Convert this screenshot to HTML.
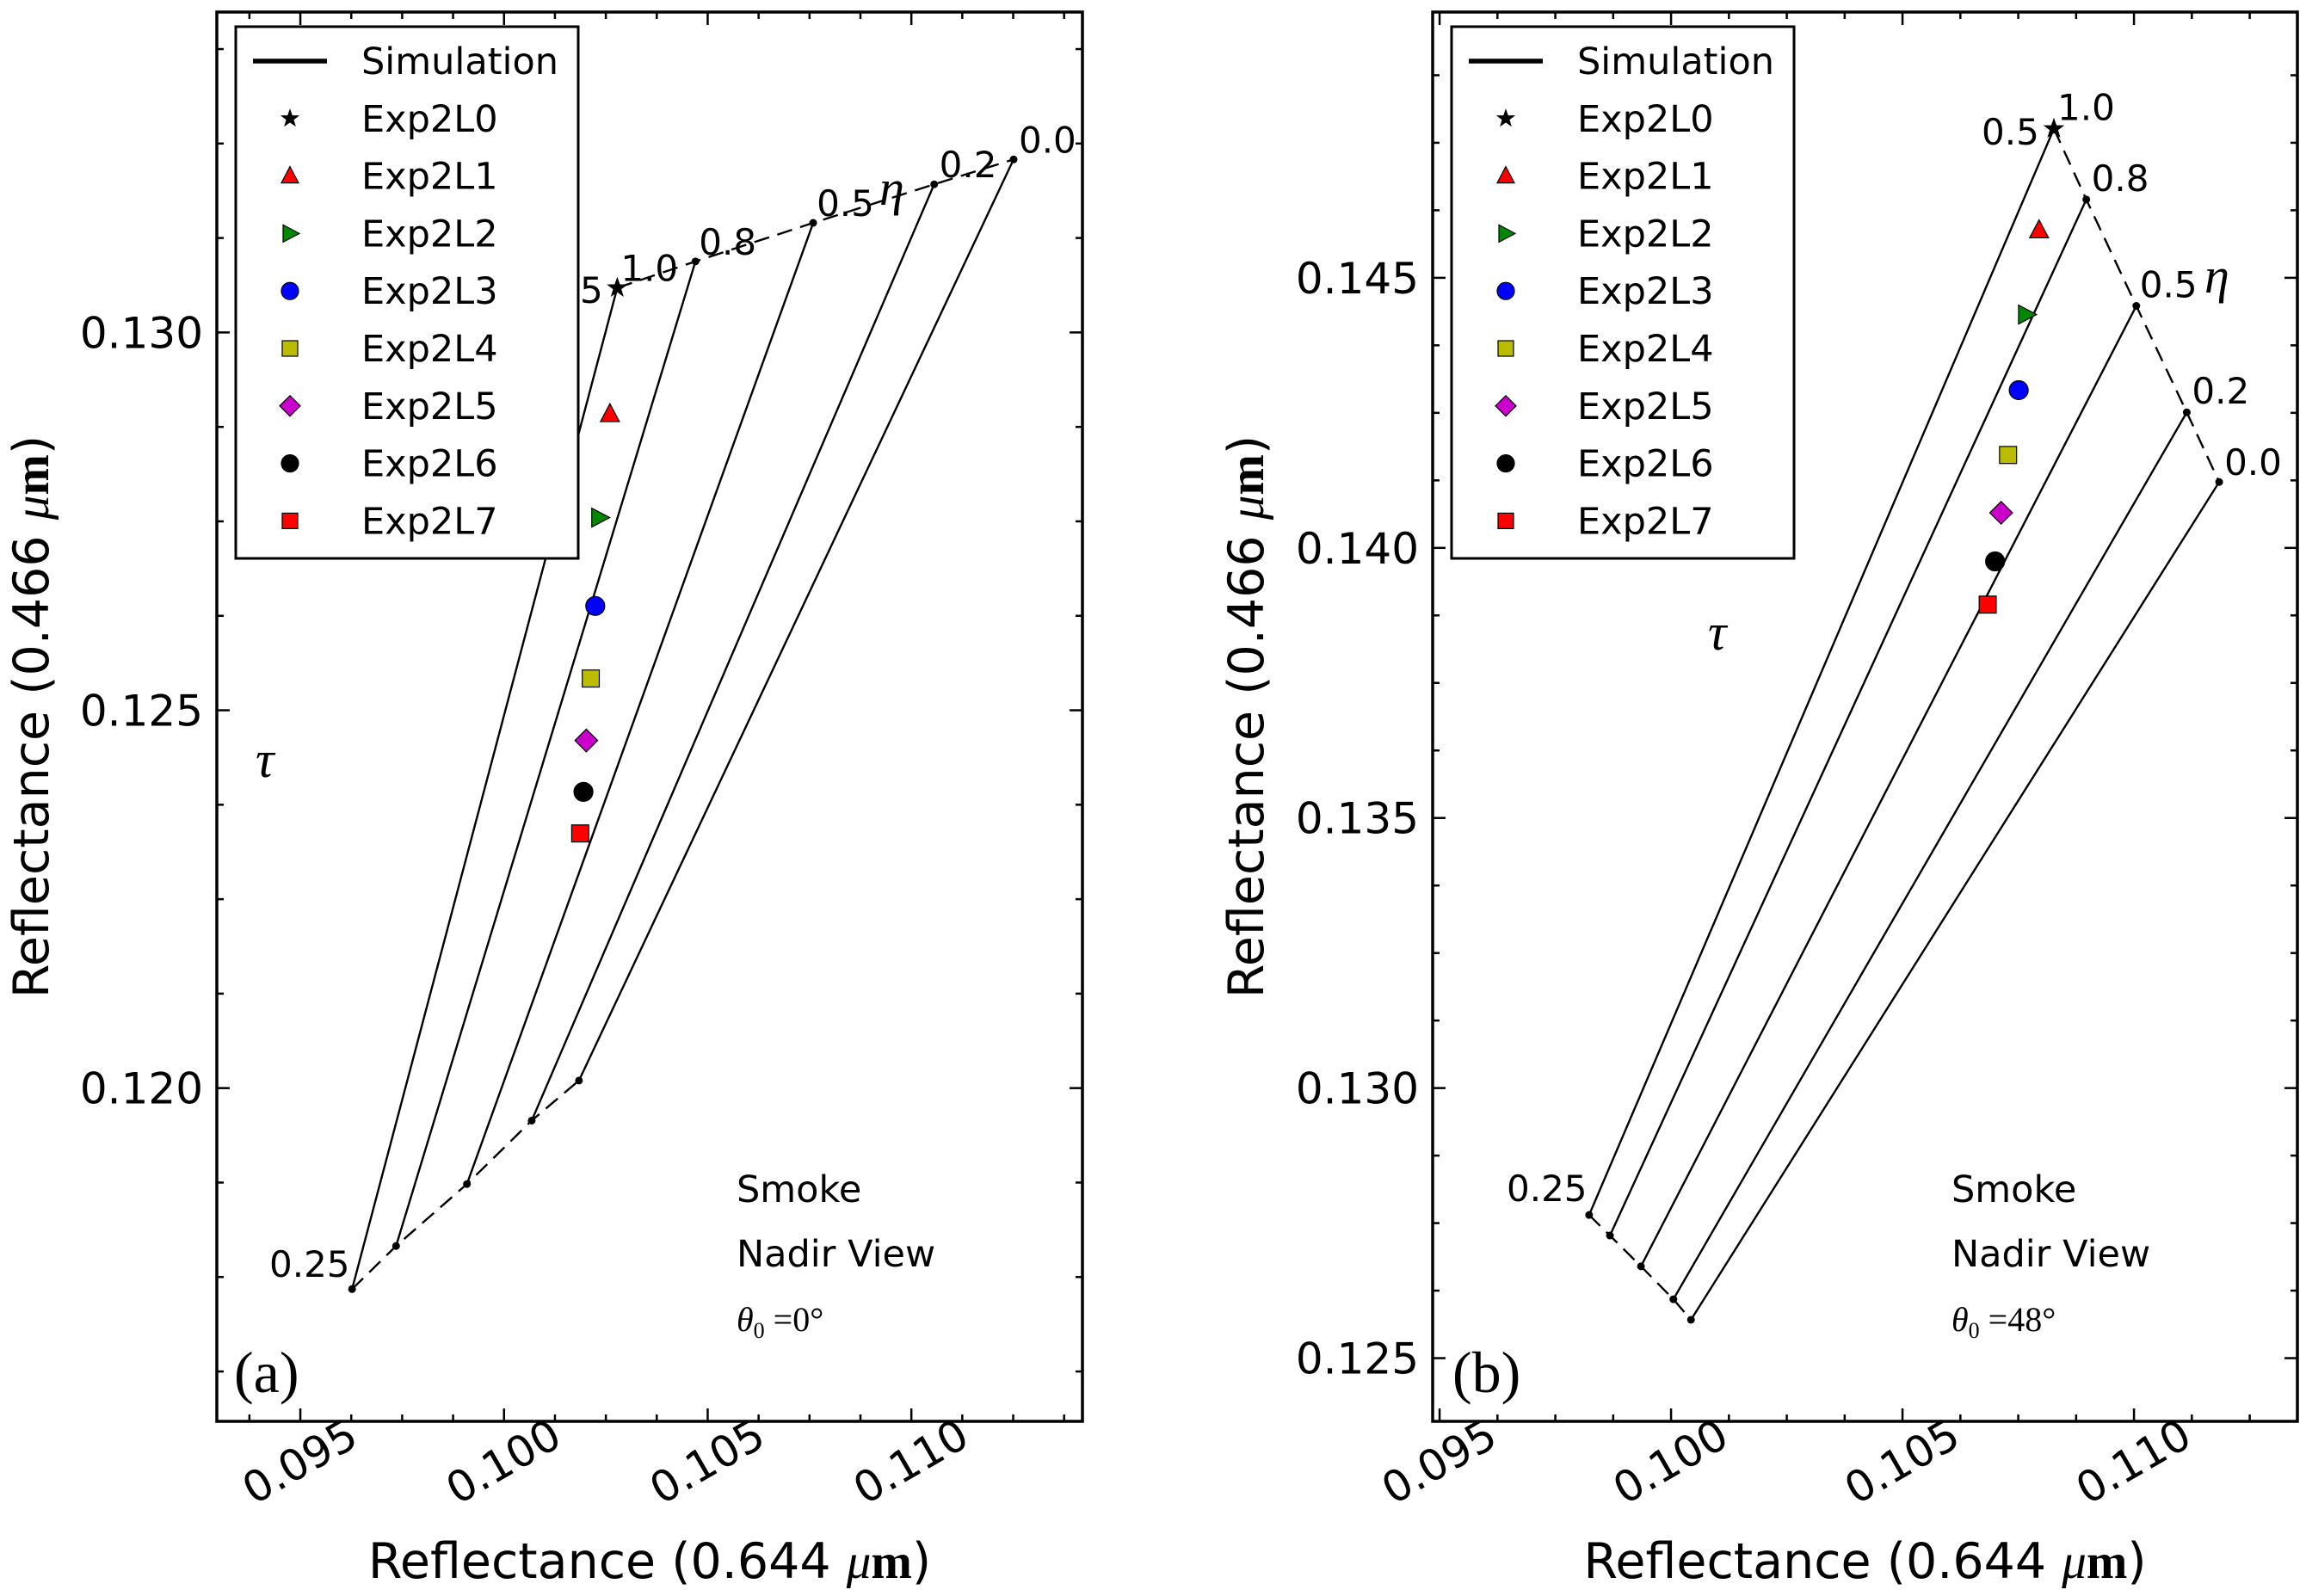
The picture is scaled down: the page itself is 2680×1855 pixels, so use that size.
<!DOCTYPE html>
<html><head><meta charset="utf-8"><style>
html,body{margin:0;padding:0;background:#fff}
svg{display:block;font-family:"DejaVu Sans","Liberation Sans",sans-serif}
</style></head><body>
<svg id="fig" width="2680" height="1855" viewBox="0 0 2680 1855" xmlns="http://www.w3.org/2000/svg">
<rect width="2680" height="1855" fill="#fff"/>
</svg>
<script>
// ---- Panel (a) data ----
const aTopX = [0.10278, 0.10470, 0.10759, 0.11056, 0.11251];
const aTopY = [0.13059, 0.13094, 0.13145, 0.13196, 0.13229];
const aBotX = [0.09627, 0.09735, 0.09909, 0.10068, 0.10184];
const aBotY = [0.11734, 0.11791, 0.11873, 0.11957, 0.12010];
const aExpX = [0.10278, 0.10260, 0.10234, 0.10224, 0.10213, 0.10202, 0.10195, 0.10187];
const aExpY = [0.13059, 0.12892, 0.12755, 0.12638, 0.12542, 0.12460, 0.12392, 0.12337];
const etaLabels = ['1.0', '0.8', '0.5', '0.2', '0.0'];
// ---- Panel (b) data ----
const bTopX = [0.10827, 0.10897, 0.11005, 0.11114, 0.11184];
const bTopY = [0.14776, 0.14645, 0.14448, 0.14251, 0.14122];
const bBotX = [0.09823, 0.09868, 0.09935, 0.10005, 0.10043];
const bBotY = [0.12765, 0.12727, 0.12670, 0.12609, 0.12571];
const bExpX = [0.10827, 0.10795, 0.10767, 0.10751, 0.10728, 0.10713, 0.10700, 0.10684];
const bExpY = [0.14776, 0.14588, 0.14432, 0.14292, 0.14172, 0.14065, 0.13975, 0.13895];
const legendLabels = ['Exp2L0','Exp2L1','Exp2L2','Exp2L3','Exp2L4','Exp2L5','Exp2L6','Exp2L7'];
const aXTicks = [0.095, 0.100, 0.105, 0.110];
const aYTicks = [0.120, 0.125, 0.130];
const bXTicks = [0.095, 0.100, 0.105, 0.110];
const bYTicks = [0.125, 0.130, 0.135, 0.140, 0.145];

const NS = 'http://www.w3.org/2000/svg';
const svg = document.getElementById('fig');
function mk(tag, attrs, parent, text) {
  const e = document.createElementNS(NS, tag);
  for (const k in attrs) e.setAttribute(k, attrs[k]);
  if (text !== undefined) e.textContent = text;
  (parent || svg).appendChild(e);
  return e;
}
const markerStyle = [
  {shape:'star', fill:'#000'}, {shape:'tri', fill:'#f00'}, {shape:'rtri', fill:'#080'},
  {shape:'circle', fill:'#00f'}, {shape:'square', fill:'#bb0'}, {shape:'diamond', fill:'#c0c'},
  {shape:'circle', fill:'#000'}, {shape:'square', fill:'#f00'}
];
function marker(g, shape, fill, cx, cy, s) {
  let e;
  if (shape === 'circle') e = mk('circle', {cx, cy, r: s*0.5}, g);
  else if (shape === 'square') e = mk('rect', {x: cx - s*0.45, y: cy - s*0.45, width: s*0.9, height: s*0.9}, g);
  else if (shape === 'tri') e = mk('polygon', {points: `${cx},${cy-s*0.55} ${cx+s*0.5},${cy+s*0.4} ${cx-s*0.5},${cy+s*0.4}`}, g);
  else if (shape === 'rtri') e = mk('polygon', {points: `${cx+s*0.55},${cy} ${cx-s*0.4},${cy-s*0.5} ${cx-s*0.4},${cy+s*0.5}`}, g);
  else if (shape === 'diamond') e = mk('polygon', {points: `${cx},${cy-s*0.6} ${cx+s*0.6},${cy} ${cx},${cy+s*0.6} ${cx-s*0.6},${cy}`}, g);
  else if (shape === 'star') {
    let p = [];
    for (let i = 0; i < 10; i++) { const r = i%2 ? s*0.22 : s*0.55; const a = -Math.PI/2 + i*Math.PI/5; p.push((cx + r*Math.cos(a)).toFixed(1) + ',' + (cy + r*Math.sin(a)).toFixed(1)); }
    e = mk('polygon', {points: p.join(' ')}, g);
  }
  e.setAttribute('fill', fill);
  e.setAttribute('stroke', '#000');
  e.setAttribute('stroke-width', '1.2');
  return e;
}

function panel(cfg) {
  const {id, L, R, T, B, xmin, xmax, ymin, ymax} = cfg;
  const sx = v => L + (v - xmin) / (xmax - xmin) * (R - L);
  const sy = v => B - (v - ymin) / (ymax - ymin) * (B - T);
  const g = mk('g', {});
  
  
  const tg = mk('g', {stroke: '#000', 'stroke-width': 2.5}, g);
  
  
  const step = 0.00125;
  for (let v = Math.ceil(xmin/step)*step; v <= xmax; v += step) {
    const major = Math.abs(v/0.005 - Math.round(v/0.005)) < 1e-6;
    const len = major ? 15 : 8, x = sx(v);
    mk('line', {x1: x, y1: B, x2: x, y2: B - len}, tg);
    mk('line', {x1: x, y1: T, x2: x, y2: T + len}, tg);
  }
  for (let v = Math.ceil(ymin/step)*step; v <= ymax; v += step) {
    const major = Math.abs(v/0.005 - Math.round(v/0.005)) < 1e-6;
    const len = major ? 15 : 8, y = sy(v);
    mk('line', {x1: L, y1: y, x2: L + len, y2: y}, tg);
    mk('line', {x1: R, y1: y, x2: R - len, y2: y}, tg);
  }
  cfg.xticks.forEach(v => {
    const x = sx(v);
    const t = mk('text', {x: x, y: 1716, 'font-size': 50, 'text-anchor': 'middle', transform: `rotate(-30 ${x} 1700)`}, g, v.toFixed(3));
    
    
  });
  cfg.yticks.forEach(v => {
    const t = mk('text', {x: L - 16, y: sy(v) + 18, 'font-size': 50, 'text-anchor': 'end'}, g, v.toFixed(3));
    
    
  });
  const xt = mk('text', {x: (L+R)/2, y: 1834, 'font-size': 57, 'text-anchor': 'middle'}, g);
  
  
  mk('tspan', {}, xt, 'Reflectance (0.644 ');
  mk('tspan', {'font-family': '"Liberation Serif",serif', 'font-style': 'italic'}, xt, 'μ');
  mk('tspan', {'font-family': '"Liberation Serif",serif', 'font-weight': 'bold'}, xt, 'm');
  mk('tspan', {}, xt, ')');
  const yx = cfg.ytitleX, yy = 833;
  const yt = mk('text', {x: yx, y: yy, 'font-size': 57, 'text-anchor': 'middle', transform: `rotate(-90 ${yx} ${yy})`}, g);
  
  
  mk('tspan', {}, yt, 'Reflectance (0.466 ');
  mk('tspan', {'font-family': '"Liberation Serif",serif', 'font-style': 'italic'}, yt, 'μ');
  mk('tspan', {'font-family': '"Liberation Serif",serif', 'font-weight': 'bold'}, yt, 'm');
  mk('tspan', {}, yt, ')');
  const sg = mk('g', {stroke: '#000', fill: 'none', 'stroke-width': 2.4}, g);
  
  
  for (let i = 0; i < cfg.topX.length; i++) {
    const ln = mk('line', {x1: sx(cfg.botX[i]), y1: sy(cfg.botY[i]), x2: sx(cfg.topX[i]), y2: sy(cfg.topY[i])}, sg);
    
    
  }
  const tp = cfg.topX.map((v, i) => sx(v) + ',' + sy(cfg.topY[i])).join(' ');
  const bp = cfg.botX.map((v, i) => sx(v) + ',' + sy(cfg.botY[i])).join(' ');
  const d1 = mk('polyline', {points: tp, 'stroke-dasharray': '18,10'}, sg);
  
  
  const d2 = mk('polyline', {points: bp, 'stroke-dasharray': '18,10'}, sg);
  
  
  const pts = cfg.topX.map((v,i)=>[v,cfg.topY[i]]).concat(cfg.botX.map((v,i)=>[v,cfg.botY[i]]));
  pts.forEach(p => {
    const c = mk('circle', {cx: sx(p[0]), cy: sy(p[1]), r: 4.5, fill: '#000', stroke: 'none'}, sg);
    
    
  });
  cfg.topX.forEach((v, i) => {
    const t = mk('text', {x: sx(v) + cfg.etaOff[i][0], y: sy(cfg.topY[i]) + cfg.etaOff[i][1], 'font-size': 42}, g, etaLabels[i]);
    
    
  });
  const eg = mk('g', {}, g);
  
  
  cfg.expX.forEach((v, i) => {
    const m = marker(eg, markerStyle[i].shape, markerStyle[i].fill, sx(v), sy(cfg.expY[i]), i === 0 ? 20 : 22);
    
    
  });
  const fr = mk('rect', {x: L, y: T, width: R - L, height: B - T, fill: 'none', stroke: '#000', 'stroke-width': 3.5}, g);
  
  
  const lg = mk('g', {}, g);
  
  
  const lx = cfg.legX;
  mk('rect', {x: lx, y: 31, width: 398, height: 618, fill: '#fff', stroke: '#000', 'stroke-width': 3}, lg);
  const ly0 = 71, dy = 66.8;
  mk('line', {x1: lx + 20, y1: ly0, x2: lx + 106, y2: ly0, stroke: '#000', 'stroke-width': 5.5}, lg);
  const t0 = mk('text', {x: lx + 146, y: ly0 + 15, 'font-size': 43}, lg, 'Simulation');
  
  
  legendLabels.forEach((lab, i) => {
    const y = ly0 + dy * (i + 1);
    marker(lg, markerStyle[i].shape, markerStyle[i].fill, lx + 63, y, i === 0 ? 18 : 20);
    const t = mk('text', {x: lx + 146, y: y + 15, 'font-size': 43}, lg, lab);
    
    
  });
  const ann = (txt, x, y, size, fam, name, style) => {
    const t = mk('text', {x, y, 'font-size': size, 'font-family': fam || 'inherit', 'font-style': style || 'normal'}, g, txt);
    
    
    return t;
  };
  cfg.ann.forEach(a => ann(...a));
  const th = mk('text', {x: cfg.thetaX, y: 1547, 'font-size': 40, 'font-family': '"Liberation Serif",serif'}, g);
  
  
  mk('tspan', {'font-style': 'italic'}, th, 'θ');
  mk('tspan', {'font-size': 26, dy: 8}, th, '0');
  mk('tspan', {dy: -8}, th, ' =' + cfg.theta + '°');
}

panel({id: 'a', L: 252, R: 1258, T: 14, B: 1652, xmin: 0.09295, xmax: 0.11420, ymin: 0.11559, ymax: 0.13424,
  xticks: aXTicks, yticks: aYTicks, ytitleX: 56, legX: 274,
  topX: aTopX, topY: aTopY, botX: aBotX, botY: aBotY, expX: aExpX, expY: aExpY,
  etaOff: [[4,-8],[4,-8],[4,-8],[6,-8],[6,-8]], thetaX: 856, theta: '0',
  ann: [
    ['5', 674, 352, 42, null, 'tau-label'],
    ['0.25', 313, 1484, 42, null, 'tau-label'],
    ['η', 1022, 238, 58, '"Liberation Serif",serif', 'eta-symbol', 'italic'],
    ['τ', 297, 903, 60, '"Liberation Serif",serif', 'tau-symbol', 'italic'],
    ['(a)', 272, 1618, 68, '"Liberation Serif",serif', 'panel-label'],
    ['Smoke', 856, 1397, 43, null, 'annotation-smoke'],
    ['Nadir View', 856, 1472, 43, null, 'annotation-view']
  ]});
panel({id: 'b', L: 1665, R: 2670, T: 14, B: 1652, xmin: 0.09485, xmax: 0.11353, ymin: 0.12383, ymax: 0.14992,
  xticks: bXTicks, yticks: bYTicks, ytitleX: 1468, legX: 1687,
  topX: bTopX, topY: bTopY, botX: bBotX, botY: bBotY, expX: bExpX, expY: bExpY,
  etaOff: [[4,-10],[6,-10],[4,-10],[6,-10],[6,-8]], thetaX: 2268, theta: '48',
  ann: [
    ['0.5', 2303, 168, 42, null, 'tau-label'],
    ['0.25', 1751, 1396, 42, null, 'tau-label'],
    ['η', 2562, 340, 58, '"Liberation Serif",serif', 'eta-symbol', 'italic'],
    ['τ', 1985, 755, 60, '"Liberation Serif",serif', 'tau-symbol', 'italic'],
    ['(b)', 1688, 1618, 68, '"Liberation Serif",serif', 'panel-label'],
    ['Smoke', 2268, 1397, 43, null, 'annotation-smoke'],
    ['Nadir View', 2268, 1472, 43, null, 'annotation-view']
  ]});
</script>
</body></html>
